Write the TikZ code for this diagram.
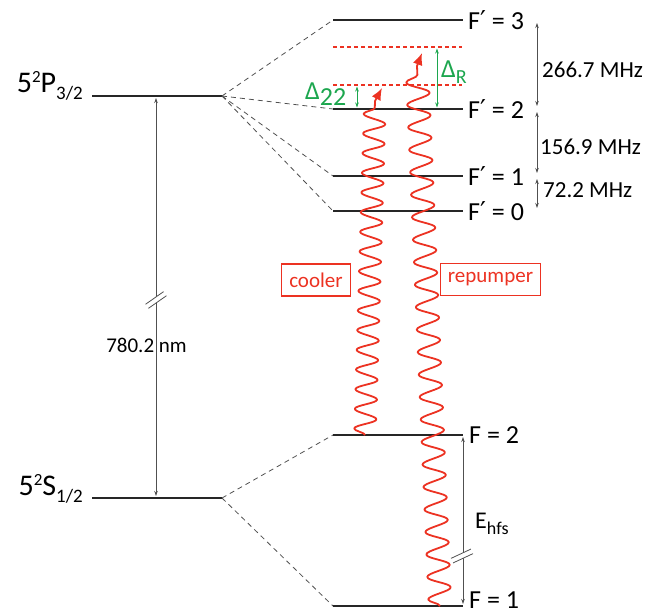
\documentclass[tikz,border=0pt]{standalone}
\usepackage{fontspec}
\setmainfont{Carlito}
\newfontfamily\primefont{DejaVu Sans}
\usetikzlibrary{arrows.meta, decorations.pathmorphing, calc}

\definecolor{laser}{RGB}{236,50,34}
\definecolor{detun}{RGB}{28,166,78}
\definecolor{guide}{RGB}{80,80,80}

\newcommand{\levsup}[1]{\raisebox{10pt}{\fontsize{17}{17}\selectfont #1}}
\newcommand{\levsub}[1]{\raisebox{-7pt}{\fontsize{19}{19}\selectfont #1}}
\newcommand{\Fprime}{F{\primefont ′}}

\begin{document}
\begin{tikzpicture}[x=1pt, y=-1pt,
  level/.style={line width=1.6pt, black!85},
  fan/.style={guide, line width=0.8pt, dash pattern=on 5pt off 4pt},
  gap/.style={guide, line width=0.8pt, {Stealth[length=5pt,width=3.5pt]}-{Stealth[length=5pt,width=3.5pt]}, shorten <=3pt, shorten >=3pt},
  virt/.style={laser, line width=1.4pt, dash pattern=on 4pt off 3pt},
  detuning/.style={detun, line width=0.9pt, {Stealth[length=5pt,width=3.5pt]}-{Stealth[length=5pt,width=3.5pt]}, shorten <=1.5pt, shorten >=1.5pt},
  beam/.style={laser, line width=1.8pt, line join=round, -{Latex[length=12pt,width=10pt]}},
  lvl/.style={font=\fontsize{26}{28}\selectfont, anchor=west, inner sep=0pt},
  freq/.style={font=\fontsize{23}{25}\selectfont, anchor=west, inner sep=0pt},
  tag/.style={draw=laser, text=laser, line width=1.1pt, font=\fontsize{21}{23}\selectfont, inner xsep=7.5pt, minimum height=32pt},
  axisbreak/.pic={
    \fill[white] (-4,-2.5) -- (4,-2.5) -- (4,2.5) -- (-4,2.5) -- cycle;
    \draw[guide, line width=0.8pt] (-11,-2.5) -- (11,-2.5) (-11,2.5) -- (11,2.5);
  }]
  \useasboundingbox (0,0) rectangle (651,615);

  % fine structure levels
  \coordinate (P0) at (92,96);  \coordinate (P1) at (222,96);
  \coordinate (S0) at (92,498); \coordinate (S1) at (222,498);
  \draw[level] (P0) -- (P1);
  \draw[level] (S0) -- (S1);
  \node[anchor=base east, inner sep=0pt, font=\fontsize{30}{32}\selectfont] (lP) at ($(P0)+(-9,-3)$) {5\levsup{2}P\levsub{3/2}};
  \node[anchor=base east, inner sep=0pt, font=\fontsize{30}{32}\selectfont] (lS) at ($(S0)+(-9,-3)$) {5\levsup{2}S\levsub{1/2}};

  % D2 line
  \coordinate (t0) at (156,96); \coordinate (t1) at (156,498);
  \draw[gap, shorten <=2pt, shorten >=2pt] (t0) -- (t1);
  \pic[rotate=35] at (156,300) {axisbreak};
  \node[font=\fontsize{21}{23}\selectfont, inner sep=0pt] (lD) at (146.5,345) {780.2 nm};

  % excited hyperfine levels
  \foreach \n/\y in {3/20, 2/109, 1/176, 0/211} {
    \coordinate (e\n a) at (333,\y);
    \coordinate (e\n b) at (463,\y);
    \coordinate (m\n) at (537,\y);
    \draw[fan] (P1) -- (e\n a);
    \draw[level] (e\n a) -- (e\n b);
    \node[lvl] (le\n) at ($(e\n b)+(5,0)$) {\Fprime\ = \n};
  }

  % ground hyperfine levels
  \foreach \n/\y in {2/435, 1/606} {
    \coordinate (g\n a) at (333,\y);
    \coordinate (g\n b) at (463,\y);
    \draw[fan] (S1) -- (g\n a);
    \draw[level] (g\n a) -- (g\n b);
  }
  \node[lvl] (lg2) at ($(g2b)+(6,0)$) {F = 2};
  \node[lvl] (lg1) at ($(g1b)+(6,-6)$) {F = 1};

  % splittings
  \draw[gap] (m3) -- (m2);
  \draw[gap] (m2) -- (m1);
  \draw[gap] (m1) -- (m0);
  \node[freq] (f32) at (542,70) {266.7 MHz};
  \node[freq] (f21) at (540,147) {156.9 MHz};
  \node[freq] (f10) at (543,190) {72.2 MHz};

  \draw[gap, shorten <=2pt, shorten >=2pt] (g2b) -- (g1b);
  \node[anchor=base west, inner sep=0pt, font=\fontsize{24}{26}\selectfont] (lE) at (475,528) {E\raisebox{-6pt}{\fontsize{18}{18}\selectfont hfs}};

  % virtual levels and detunings
  \coordinate (vR a) at (333,47); \coordinate (vR b) at (462,47);
  \coordinate (vC a) at (333,85); \coordinate (vC b) at (462,85);
  \draw[virt] (vR a) -- (vR b);
  \draw[virt] (vC a) -- (vC b);
  \draw[detuning] (437,47) -- (437,109);
  \draw[detuning] (357,85) -- (357,109);
  \node[anchor=base west, inner sep=0pt, text=detun, font=\fontsize{26}{28}\selectfont] (dR) at (441,78) {Δ\raisebox{-6pt}{\fontsize{20}{20}\selectfont R}};
  \node[anchor=base west, inner sep=0pt, text=detun, font=\fontsize{26}{28}\selectfont] (dC) at (305,100) {Δ\raisebox{-6pt}{22}};

  % laser beams
  \coordinate (c0) at (365,435); \coordinate (c1) at (375,101); \coordinate (c2) at (382,88);
  \coordinate (r0) at (440,606); \coordinate (r1) at (417,66);  \coordinate (r2) at (422,53);
  \draw[beam] (c0) decorate[decoration={snake, segment length=19.68pt, amplitude=11pt}] {-- (c1)} -- (c2);
  \draw[beam] (r0) decorate[decoration={snake, segment length=22.5pt, amplitude=11.5pt}] {-- (r1)} -- (r2);
  \pic[rotate=25] at (462,556) {axisbreak};

  \node[tag] (cool) at (316,280) {cooler};
  \node[tag] (rep) at (490.5,279.5) {repumper};
\end{tikzpicture}
\end{document}
